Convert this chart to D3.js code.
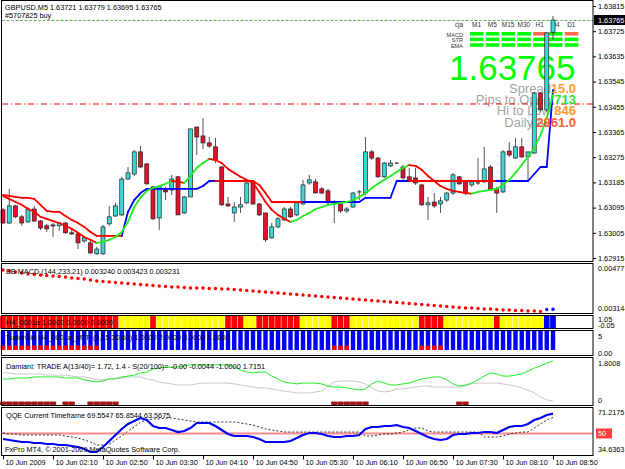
<!DOCTYPE html>
<html>
<head>
<meta charset="utf-8">
<script src="https://cdnjs.cloudflare.com/ajax/libs/d3/7.8.5/d3.min.js"></script>
<style>
  body { margin: 0; background: #fff; }
  svg { display: block; }
  text { font-family: "Liberation Sans", Arial, sans-serif; }
</style>
</head>
<body>
<svg id="mainsvg" width="625" height="469"></svg>
<script>
// ---- data (GBPUSD M5, 10 Jun 2009 01:30 .. 08:50) ----
const timeLabels = ['10 Jun 2009', '10 Jun 02:10', '10 Jun 02:50', '10 Jun 03:30', '10 Jun 04:10', '10 Jun 04:50',
  '10 Jun 05:30', '10 Jun 06:10', '10 Jun 06:50', '10 Jun 07:30', '10 Jun 08:10', '10 Jun 08:50'];
const timeTickBars = [0, 8, 16, 24, 32, 40, 48, 56, 64, 72, 80, 88];
const priceTicks = [1.63815, 1.63725, 1.63635, 1.63545, 1.63455, 1.63365, 1.63275, 1.63185, 1.63095, 1.63005, 1.62915];

const open = [1.63087,1.63040,1.63101,1.63062,1.63044,1.63090,1.63047,1.63030,1.63033,1.63030,
  1.63040,1.63005,1.63001,1.62976,1.62969,1.62930,1.62930,1.63037,1.63065,1.63069,
  1.63197,1.63215,1.63294,1.63251,1.63169,1.63058,1.63158,1.63158,1.63205,1.63076,
  1.63133,1.63383,1.63351,1.63326,1.63312,1.63240,1.63108,1.63076,1.63097,1.63112,
  1.63183,1.63108,1.63076,1.62987,1.63026,1.63051,1.63090,1.63069,1.63108,1.63183,
  1.63187,1.63162,1.63155,1.63108,1.63108,1.63083,1.63097,1.63151,1.63147,1.63294,
  1.63272,1.63205,1.63244,1.63254,1.63240,1.63205,1.63201,1.63176,1.63105,1.63115,
  1.63108,1.63122,1.63147,1.63205,1.63187,1.63176,1.63183,1.63187,1.63240,1.63162,
  1.63151,1.63297,1.63272,1.63312,1.63276,1.63290,1.63504,1.63444,1.63721];
const high = [1.63094,1.63162,1.63105,1.63069,1.63097,1.63101,1.63051,1.63037,1.63040,1.63044,
  1.63044,1.63015,1.63005,1.62994,1.62980,1.62955,1.63033,1.63101,1.63112,1.63205,
  1.63240,1.63301,1.63315,1.63254,1.63172,1.63169,1.63169,1.63212,1.63208,1.63137,
  1.63376,1.63383,1.63415,1.63347,1.63344,1.63244,1.63133,1.63115,1.63133,1.63187,
  1.63187,1.63112,1.63076,1.63040,1.63062,1.63097,1.63097,1.63115,1.63194,1.63212,
  1.63197,1.63169,1.63162,1.63122,1.63115,1.63097,1.63151,1.63158,1.63347,1.63301,
  1.63276,1.63258,1.63265,1.63258,1.63247,1.63237,1.63237,1.63180,1.63133,1.63147,
  1.63133,1.63151,1.63219,1.63208,1.63194,1.63194,1.63272,1.63312,1.63247,1.63169,
  1.63301,1.63329,1.63344,1.63344,1.63294,1.63508,1.63508,1.63722,1.63779];
const low = [1.63037,1.63037,1.63058,1.63030,1.63040,1.63044,1.63015,1.63008,1.62990,1.63012,
  1.63001,1.62997,1.62947,1.62969,1.62930,1.62926,1.62926,1.63030,1.63062,1.63065,
  1.63194,1.63208,1.63237,1.63176,1.63051,1.63015,1.63122,1.63140,1.63069,1.63072,
  1.63133,1.63283,1.63304,1.63308,1.63254,1.63101,1.63097,1.63044,1.63076,1.63108,
  1.63105,1.63065,1.62972,1.62983,1.63022,1.63047,1.63058,1.63065,1.63105,1.63176,
  1.63147,1.63144,1.63108,1.63040,1.63076,1.63076,1.63094,1.63122,1.63140,1.63265,
  1.63201,1.63201,1.63240,1.63251,1.63194,1.63187,1.63176,1.63101,1.63051,1.63094,
  1.63076,1.63115,1.63140,1.63176,1.63140,1.63169,1.63176,1.63183,1.63155,1.63076,
  1.63147,1.63276,1.63269,1.63272,1.63194,1.63287,1.63437,1.63437,1.63695];
const close = [1.63040,1.63101,1.63062,1.63040,1.63090,1.63047,1.63022,1.63019,1.63030,1.63040,
  1.63005,1.63001,1.62969,1.62987,1.62933,1.62947,1.63026,1.63062,1.63101,1.63197,
  1.63219,1.63294,1.63240,1.63180,1.63055,1.63169,1.63151,1.63197,1.63069,1.63133,
  1.63376,1.63347,1.63326,1.63315,1.63265,1.63105,1.63101,1.63097,1.63105,1.63183,
  1.63108,1.63069,1.62980,1.63026,1.63055,1.63090,1.63062,1.63112,1.63176,1.63194,
  1.63147,1.63147,1.63112,1.63108,1.63083,1.63090,1.63147,1.63151,1.63294,1.63272,
  1.63205,1.63254,1.63254,1.63254,1.63201,1.63194,1.63183,1.63105,1.63112,1.63101,
  1.63119,1.63147,1.63212,1.63180,1.63147,1.63187,1.63183,1.63233,1.63158,1.63147,
  1.63294,1.63283,1.63312,1.63276,1.63294,1.63504,1.63444,1.63719,1.63765];

// moving average (red falling / green rising)
const maLine = [1.63137,1.63126,1.63115,1.63105,1.63090,1.63080,1.63062,1.63055,1.63047,1.63040,
  1.63030,1.63019,1.63005,1.62990,1.62980,1.62969,1.62972,1.62980,1.62990,1.63008,
  1.63044,1.63097,1.63130,1.63155,1.63165,1.63172,1.63180,1.63190,1.63187,1.63183,
  1.63208,1.63237,1.63254,1.63269,1.63265,1.63254,1.63233,1.63219,1.63205,1.63194,
  1.63183,1.63151,1.63115,1.63087,1.63069,1.63055,1.63044,1.63051,1.63065,1.63076,
  1.63090,1.63097,1.63105,1.63108,1.63112,1.63115,1.63122,1.63133,1.63147,1.63165,
  1.63180,1.63194,1.63208,1.63222,1.63237,1.63247,1.63244,1.63230,1.63208,1.63190,
  1.63172,1.63162,1.63155,1.63151,1.63147,1.63145,1.63151,1.63155,1.63158,1.63162,
  1.63176,1.63194,1.63219,1.63247,1.63276,1.63308,1.63354,1.63415,1.63497];

// trailing step line and its trend (1 up = blue, -1 down = red)
const stepLine = [1.63140,1.63137,1.63133,1.63130,1.63130,1.63126,1.63105,1.63083,1.63080,1.63080,
  1.63065,1.63051,1.63040,1.63026,1.63008,1.62994,1.62994,1.62994,1.62994,1.62994,
  1.63080,1.63122,1.63147,1.63162,1.63162,1.63162,1.63162,1.63162,1.63162,1.63162,
  1.63162,1.63162,1.63172,1.63190,1.63190,1.63190,1.63190,1.63190,1.63190,1.63190,
  1.63190,1.63176,1.63147,1.63115,1.63115,1.63115,1.63115,1.63115,1.63115,1.63115,
  1.63115,1.63115,1.63115,1.63115,1.63115,1.63115,1.63115,1.63115,1.63130,1.63130,
  1.63130,1.63130,1.63130,1.63190,1.63190,1.63190,1.63190,1.63190,1.63190,1.63190,
  1.63190,1.63190,1.63190,1.63190,1.63190,1.63190,1.63190,1.63190,1.63190,1.63190,
  1.63190,1.63190,1.63190,1.63190,1.63190,1.63215,1.63240,1.63240,1.63515];
const stepTrend = [-1,-1,-1,-1,-1,-1,-1,-1,-1,-1,-1,-1,-1,-1,-1,-1,-1,-1,-1,-1,
  1,1,1,1,1,1,1,1,1,1,1,1,1,1,1,
  -1,-1,-1,-1,-1,-1,-1,-1,-1,-1,-1,-1,-1,-1,
  1,1,1,1,1,1,1,1,1,1,1,1,1,1,1,1,1,
  -1,-1,-1,-1,-1,-1,-1,-1,-1,-1,-1,-1,-1,-1,
  1,1,1,1,1,1,1,1,1];
const orderPrice = 1.63465;
const lastPrice = 1.63765;

// BB MACD dots
const macdDots = [0.004604,0.004569,0.004534,0.004499,0.004465,0.004447,0.004430,0.004413,0.004395,0.004378,
  0.004361,0.004326,0.004309,0.004291,0.004257,0.004222,0.004205,0.004187,0.004170,0.004152,
  0.004135,0.004118,0.004100,0.004083,0.004066,0.004048,0.004031,0.004014,0.004014,0.003996,
  0.003979,0.003979,0.003979,0.003962,0.003962,0.003944,0.003944,0.003927,0.003910,0.003892,
  0.003875,0.003858,0.003840,0.003823,0.003806,0.003788,0.003771,0.003754,0.003736,0.003719,
  0.003702,0.003684,0.003667,0.003649,0.003632,0.003615,0.003597,0.003580,0.003563,0.003545,
  0.003528,0.003511,0.003493,0.003476,0.003458,0.003441,0.003424,0.003406,0.003389,0.003372,
  0.003354,0.003337,0.003320,0.003302,0.003285,0.003285,0.003268,0.003250,0.003250,0.003233,
  0.003216,0.003216,0.003198,0.003198,0.003181,0.003181,0.003164,0.003233,0.003240];

// H4_0001a strip: 0 yellow, 1 red, 2 blue
const stripState = [1,1,1,1,1,1,1,1,1,1,1,1,1,1,1,1,1,1,1,0,0,0,0,0,1,
  0,0,0,0,0,0,0,0,0,0,0,1,1,1,0,0,1,1,1,1,1,1,1,0,0,0,0,0,1,1,1,
  0,0,0,0,0,0,0,0,0,0,0,1,1,1,1,0,0,0,0,0,0,0,0,1,0,0,0,0,0,0,0,2,2];
// TudorGirl MTF: bars with a red foot
const tudorRed = [0,1,2,3,4,5,6,7,8,9,10,11,12,13,14,15,53,54,55,67,68,69,70];

// Damiani volatmeter
const damianiA = [1.04,1.04,1.09,1.09,1.09,1.14,1.14,1.14,1.14,1.14,
  1.09,1.09,1.09,1.00,0.95,0.90,0.95,1.04,1.04,1.14,
  1.18,1.23,1.33,1.37,1.52,1.56,1.61,1.61,1.61,1.66,
  1.71,1.71,1.71,1.71,1.71,1.71,1.71,1.61,1.47,1.37,
  1.33,1.37,1.37,1.18,1.04,0.90,0.85,0.81,0.85,0.85,
  0.85,0.81,0.71,0.66,0.66,0.62,0.57,0.52,0.57,0.81,
  0.95,0.85,0.76,0.76,0.81,0.85,0.95,1.04,1.09,1.14,
  1.14,1.00,0.81,0.71,0.76,0.85,1.00,1.18,1.33,1.28,
  1.18,1.18,1.23,1.28,1.42,1.56,1.66,1.80,1.90];
const damianiS = [1.33,1.33,1.28,1.28,1.28,1.28,1.28,1.23,1.23,1.23,
  1.23,1.18,1.14,1.14,1.09,1.00,1.00,1.04,1.09,1.09,
  1.14,1.14,1.14,1.04,1.00,0.90,0.85,0.81,0.76,0.76,
  0.76,0.81,0.85,0.85,0.85,0.85,0.85,0.81,0.76,0.71,
  0.66,0.62,0.62,0.57,0.52,0.47,0.43,0.38,0.38,0.38,
  0.43,0.47,0.71,0.90,0.95,0.95,0.95,0.90,0.81,0.62,
  0.47,0.43,0.47,0.57,0.57,0.62,0.66,0.71,0.71,0.66,
  0.66,0.66,0.66,0.66,0.71,0.81,0.85,0.85,0.85,0.85,
  0.81,0.76,0.71,0.62,0.52,0.38,0.19,0.05,0.00];
const damianiNoTrade = [0,1,2,3,4,5,6,7,8,10,11,14,15,16,17,18,53,54,55,56,57,58,73,74];

// QQE
const qqeRsi = [44.52,43.53,42.54,41.55,41.55,40.56,40.56,39.57,39.57,38.58,
  38.58,37.59,36.60,34.63,31.66,31.66,36.60,42.54,48.47,54.41,
  59.35,62.32,65.29,63.31,57.37,55.40,55.40,53.42,51.44,52.43,
  55.40,60.34,60.34,60.34,57.37,53.42,49.46,47.48,47.48,47.48,
  46.49,44.52,41.55,41.55,41.55,41.55,42.54,45.50,48.47,50.45,
  50.45,49.46,47.48,46.49,46.49,47.48,47.48,48.47,54.41,56.38,
  56.38,57.37,57.37,58.36,56.38,55.40,52.43,49.46,46.49,44.52,
  43.53,44.52,48.47,49.46,49.46,50.45,50.45,51.44,51.44,50.45,
  53.42,56.38,57.37,57.37,59.35,63.31,65.29,68.25,69.55];
const qqeTrail = [50.45,49.46,49.46,48.47,48.47,48.47,48.47,48.47,48.47,48.47,
  47.48,46.49,45.50,43.53,41.55,38.58,38.58,39.57,43.53,47.48,
  52.43,56.38,61.33,63.31,64.30,64.30,65.29,65.29,64.30,63.31,
  62.32,61.33,61.33,61.33,61.33,61.33,61.33,61.33,60.34,59.35,
  58.36,56.38,54.41,53.42,52.43,51.44,51.44,51.44,51.44,51.44,
  51.44,51.44,51.44,51.44,51.44,51.44,51.44,51.44,47.48,47.48,
  48.47,49.46,49.46,50.45,51.44,53.42,55.40,55.40,52.43,51.44,
  51.44,51.44,51.44,51.44,51.44,51.44,51.44,46.49,46.49,46.49,
  47.48,49.46,50.45,51.44,51.44,55.40,59.35,63.31,65.85];

// info panel
const tfLabels = ['M1', 'M5', 'M15', 'M30', 'H1', 'H4', 'D1'];
const rowLabels = ['MACD', 'STR', 'EMA'];
const tfSignals = [[1, 1, 1, 1, 0, 1, 0], [1, 1, 1, 1, 1, 1, 1], [1, 1, 1, 1, 1, 1, 1]];
const statLabels = ['Spread', 'Pips to Open', 'Hi to Low', 'Daily Av'];
const statValues = ['15.0', '713', '846', '2861.0'];

// ---- drawing ----
const svg = d3.select('#mainsvg');
const axisX = 593;
const fs = 7.3;
const bars = d3.range(close.length);

const x = d3.scaleLinear().domain([0, 88]).range([3, 553]);
const yPrice = d3.scaleLinear().domain([1.62915, 1.63815]).range([258, 6]);
const yMacd = d3.scaleLinear().domain([0.003144, 0.004777]).range([312, 265]);
const yDam = d3.scaleLinear().domain([0, 1.8008]).range([401, 363]);
const yQqe = d3.scaleLinear().domain([34.6363, 71.2175]).range([449, 412]);

const defs = svg.append('defs');
const pat = defs.append('pattern').attr('id', 'bull').attr('width', 2).attr('height', 2)
  .attr('patternUnits', 'userSpaceOnUse');
pat.append('rect').attr('width', 2).attr('height', 2).attr('fill', '#19e6e6');
pat.append('rect').attr('width', 1).attr('height', 1).attr('fill', '#5ec8c8');
pat.append('rect').attr('x', 1).attr('y', 1).attr('width', 1).attr('height', 1).attr('fill', '#5ec8c8');

svg.append('rect').attr('width', 625).attr('height', 469).attr('fill', '#fff');

// pane frames
const panes = [[0.5, 261.5], [263.5, 313.5], [315.5, 328.5], [330.5, 355.5], [357.5, 405.5], [407.5, 455.5]];
const frames = svg.append('g');

const main = svg.append('g');

// info panel (behind the candles)
const info = main.append('g');
info.append('text').attr('x', 463).attr('y', 27).attr('text-anchor', 'end')
  .attr('font-size', 6.5).attr('fill', '#333').text('cja');
tfLabels.forEach((t, j) => {
  info.append('text').attr('x', 476.5 + j * 15.8).attr('y', 27).attr('text-anchor', 'middle')
    .attr('font-size', 6.5).attr('fill', '#333').text(t);
});
rowLabels.forEach((r, k) => {
  info.append('text').attr('x', 463).attr('y', 36.5 + k * 5.6).attr('text-anchor', 'end')
    .attr('font-size', 5.6).attr('fill', '#333').text(r);
  tfSignals[k].forEach((s, j) => {
    info.append('rect').attr('x', 470 + j * 15.8).attr('y', 32 + k * 5.6)
      .attr('width', 13.5).attr('height', 3.6)
      .attr('fill', s ? '#00ff00' : '#ff6a4d');
  });
});
info.append('text').attr('x', 449).attr('y', 80).attr('font-size', 35).attr('fill', '#00ff00')
  .text(d3.format('.5f')(lastPrice));
statLabels.forEach((l, k) => {
  info.append('text').attr('x', 551).attr('y', 93 + k * 11.2).attr('text-anchor', 'end')
    .attr('font-size', 13).attr('fill', '#a3a3a3').text(l);
});

// order line and bid line
main.append('line').attr('x1', 2).attr('x2', axisX).attr('y1', yPrice(orderPrice)).attr('y2', yPrice(orderPrice))
  .attr('stroke', '#ff0000').attr('stroke-dasharray', '6,3,1,3');
main.append('line').attr('x1', 2).attr('x2', axisX).attr('y1', yPrice(lastPrice) + 0.5).attr('y2', yPrice(lastPrice) + 0.5)
  .attr('stroke', '#9a9a9a').attr('stroke-dasharray', '3,6');
main.append('line').attr('x1', 2).attr('x2', axisX).attr('y1', yPrice(lastPrice) + 0.5).attr('y2', yPrice(lastPrice) + 0.5)
  .attr('stroke', '#33cc33').attr('stroke-dasharray', '3,6').attr('stroke-dashoffset', -4.5);

// candles
const candles = main.append('g');
candles.selectAll('line.wick').data(bars).join('line').attr('class', 'wick')
  .attr('x1', i => x(i)).attr('x2', i => x(i))
  .attr('y1', i => yPrice(high[i])).attr('y2', i => yPrice(low[i]))
  .attr('stroke', '#555').attr('stroke-width', 1);
candles.selectAll('rect.body').data(bars.filter(i => open[i] !== close[i])).join('rect').attr('class', 'body')
  .attr('x', i => x(i) - 2).attr('width', 4)
  .attr('y', i => yPrice(Math.max(open[i], close[i])))
  .attr('height', i => Math.max(1, Math.abs(yPrice(open[i]) - yPrice(close[i]))))
  .attr('fill', i => close[i] > open[i] ? 'url(#bull)' : '#e3132c')
  .attr('stroke', '#222').attr('stroke-width', 0.7);
candles.selectAll('line.doji').data(bars.filter(i => open[i] === close[i])).join('line').attr('class', 'doji')
  .attr('x1', i => x(i) - 2).attr('x2', i => x(i) + 2)
  .attr('y1', i => yPrice(close[i])).attr('y2', i => yPrice(close[i]))
  .attr('stroke', '#222');

// step line and moving average
main.selectAll('line.step').data(d3.pairs(bars)).join('line').attr('class', 'step')
  .attr('x1', d => x(d[0])).attr('x2', d => x(d[1]))
  .attr('y1', d => yPrice(stepLine[d[0]])).attr('y2', d => yPrice(stepLine[d[1]]))
  .attr('stroke', d => stepTrend[d[1]] > 0 ? '#0000ff' : '#ff0000')
  .attr('stroke-width', 1.8).attr('stroke-linecap', 'round');
main.selectAll('line.ma').data(d3.pairs(bars)).join('line').attr('class', 'ma')
  .attr('x1', d => x(d[0])).attr('x2', d => x(d[1]))
  .attr('y1', d => yPrice(maLine[d[0]])).attr('y2', d => yPrice(maLine[d[1]]))
  .attr('stroke', d => maLine[d[1]] < maLine[d[0]] ? '#ff0000' : '#22ee22')
  .attr('stroke-width', 1.8).attr('stroke-linecap', 'round');

// stat values on top
statValues.forEach((v, k) => {
  main.append('text').attr('x', 576).attr('y', 93 + k * 11.2).attr('text-anchor', 'end')
    .attr('font-size', 13).attr('font-weight', 'bold')
    .attr('fill', ['#ff9a2e', '#33dd33', '#ff9a2e', '#ff5a36'][k]).text(v);
});

main.append('text').attr('x', 5).attr('y', 10).attr('font-size', fs)
  .text('GBPUSD,M5  1.63721 1.63779 1.63695 1.63765');
main.append('text').attr('x', 5).attr('y', 17.5).attr('font-size', fs).text('#5707825 buy');

// price axis
svg.append('g').attr('transform', `translate(${axisX},0)`)
  .call(d3.axisRight(yPrice).tickValues(priceTicks).tickSize(3).tickPadding(2).tickFormat(d3.format('.5f')))
  .call(g => g.select('.domain').remove())
  .attr('font-size', fs).attr('font-family', '"Liberation Sans", Arial, sans-serif');
svg.append('rect').attr('x', 594).attr('y', yPrice(lastPrice) - 5).attr('width', 31).attr('height', 10).attr('fill', '#000');
svg.append('text').attr('x', 598).attr('y', yPrice(lastPrice) + 2.6).attr('font-size', fs).attr('fill', '#fff')
  .text(d3.format('.5f')(lastPrice));

// MACD pane
const macd = svg.append('g');
macd.selectAll('circle').data(bars).join('circle')
  .attr('cx', i => x(i)).attr('cy', i => yMacd(macdDots[i])).attr('r', 1.7)
  .attr('fill', i => i > 0 && macdDots[i] > macdDots[i - 1] ? '#0000ff' : '#ff0000');
macd.append('text').attr('x', 6).attr('y', 274).attr('font-size', fs)
  .text('BB MACD (144,233,21) 0.003240 0.003423 0.003231');

// H4 strip
const strip = svg.append('g');
strip.selectAll('rect').data(bars).join('rect')
  .attr('x', i => x(i) - 2.85).attr('width', 5.7).attr('y', 316).attr('height', 12.5)
  .attr('fill', i => ['#ffff00', '#ff0000', '#0000ff'][stripState[i]]);
strip.append('text').attr('x', 6).attr('y', 325).attr('font-size', fs).text('H4_0001a 1.0000 0.0000 0.0000');

// TudorGirl
const tudor = svg.append('g');
tudor.selectAll('rect.b').data(bars).join('rect').attr('class', 'b')
  .attr('x', i => x(i) - 2.2).attr('width', 4.4).attr('y', 331).attr('height', 19)
  .attr('fill', '#0000ff');
tudor.selectAll('rect.r').data(tudorRed).join('rect').attr('class', 'r')
  .attr('x', i => x(i) - 2.2).attr('width', 4.4).attr('y', 345.5).attr('height', 4.5)
  .attr('fill', '#ff0000');
tudor.append('text').attr('x', 6).attr('y', 340).attr('font-size', fs)
  .text('TudorGirl H4_0001a_MTF (5,15,30,60) 1.0000 2.0000 3.0000 4.0000');

// Damiani
const dam = svg.append('g');
dam.selectAll('rect').data(damianiNoTrade).join('rect')
  .attr('x', i => x(i) - 3.2).attr('width', 6.4).attr('y', 401.5).attr('height', 3.5).attr('rx', 1)
  .attr('fill', '#a01818');
dam.append('path').datum(bars)
  .attr('d', d3.line().x(i => x(i)).y(i => yDam(damianiS[i])))
  .attr('fill', 'none').attr('stroke', '#c8c8c8').attr('stroke-width', 1);
dam.append('path').datum(bars)
  .attr('d', d3.line().x(i => x(i)).y(i => yDam(damianiA[i])))
  .attr('fill', 'none').attr('stroke', '#22ee22').attr('stroke-width', 1);
dam.append('text').attr('x', 6).attr('y', 369).attr('font-size', fs)
  .text('Damiani: TRADE  A(13/40)= 1.72, 1.4 - S(20/100)= -0.00 -0.0044 -1.0000 1.7151');

// QQE
const qqe = svg.append('g');
qqe.append('line').attr('x1', 2).attr('x2', axisX).attr('y1', yQqe(50)).attr('y2', yQqe(50))
  .attr('stroke', '#ff8a8a').attr('stroke-width', 2);
qqe.append('path').datum(bars)
  .attr('d', d3.line().x(i => x(i)).y(i => yQqe(qqeTrail[i])))
  .attr('fill', 'none').attr('stroke', '#000').attr('stroke-width', 0.8).attr('stroke-dasharray', '2,2');
qqe.append('path').datum(bars)
  .attr('d', d3.line().x(i => x(i)).y(i => yQqe(qqeRsi[i])))
  .attr('fill', 'none').attr('stroke', '#0000ff').attr('stroke-width', 2.2);
qqe.append('text').attr('x', 6).attr('y', 418).attr('font-size', fs)
  .text('QQE Current Timeframe 69.5547 65.8544 63.5675');
qqe.append('text').attr('x', 5).attr('y', 452).attr('font-size', fs)
  .text('FxPro MT4, \u00a9 2001-2009 MetaQuotes Software Corp.');

// sub-window scale labels
const sideLabels = [['0.004777', 271], ['0.003144', 311], ['1.05', 322], ['-0.05', 327.5], ['5', 339],
  ['0.00', 355.5], ['1.8008', 366], ['0', 402.5], ['71.2175', 414.5], ['34.6363', 451.5]];
svg.selectAll('text.side').data(sideLabels).join('text').attr('class', 'side')
  .attr('x', 598).attr('y', d => d[1]).attr('font-size', fs).text(d => d[0]);
svg.append('rect').attr('x', 596).attr('y', yQqe(50) - 5).attr('width', 16).attr('height', 10).attr('fill', '#ff4040');
svg.append('text').attr('x', 598).attr('y', yQqe(50) + 2.6).attr('font-size', fs).attr('fill', '#fff').text('50');

// frames
panes.forEach(p => {
  frames.raise();
});
svg.selectAll('rect.frame').data(panes).join('rect').attr('class', 'frame')
  .attr('x', 1.5).attr('y', d => d[0]).attr('width', axisX - 1.5).attr('height', d => d[1] - d[0])
  .attr('fill', 'none').attr('stroke', '#000').attr('stroke-width', 1);

// time axis
svg.append('g').attr('transform', 'translate(0,455.5)')
  .call(d3.axisBottom(x).tickValues(timeTickBars).tickSize(4).tickFormat((d, k) => timeLabels[k]))
  .call(g => g.select('.domain').remove())
  .attr('font-size', fs).attr('font-family', '"Liberation Sans", Arial, sans-serif')
  .call(g => g.selectAll('text').attr('text-anchor', 'start').attr('dx', 2).attr('dy', 0).attr('y', 9.5));
</script>
</body>
</html>
